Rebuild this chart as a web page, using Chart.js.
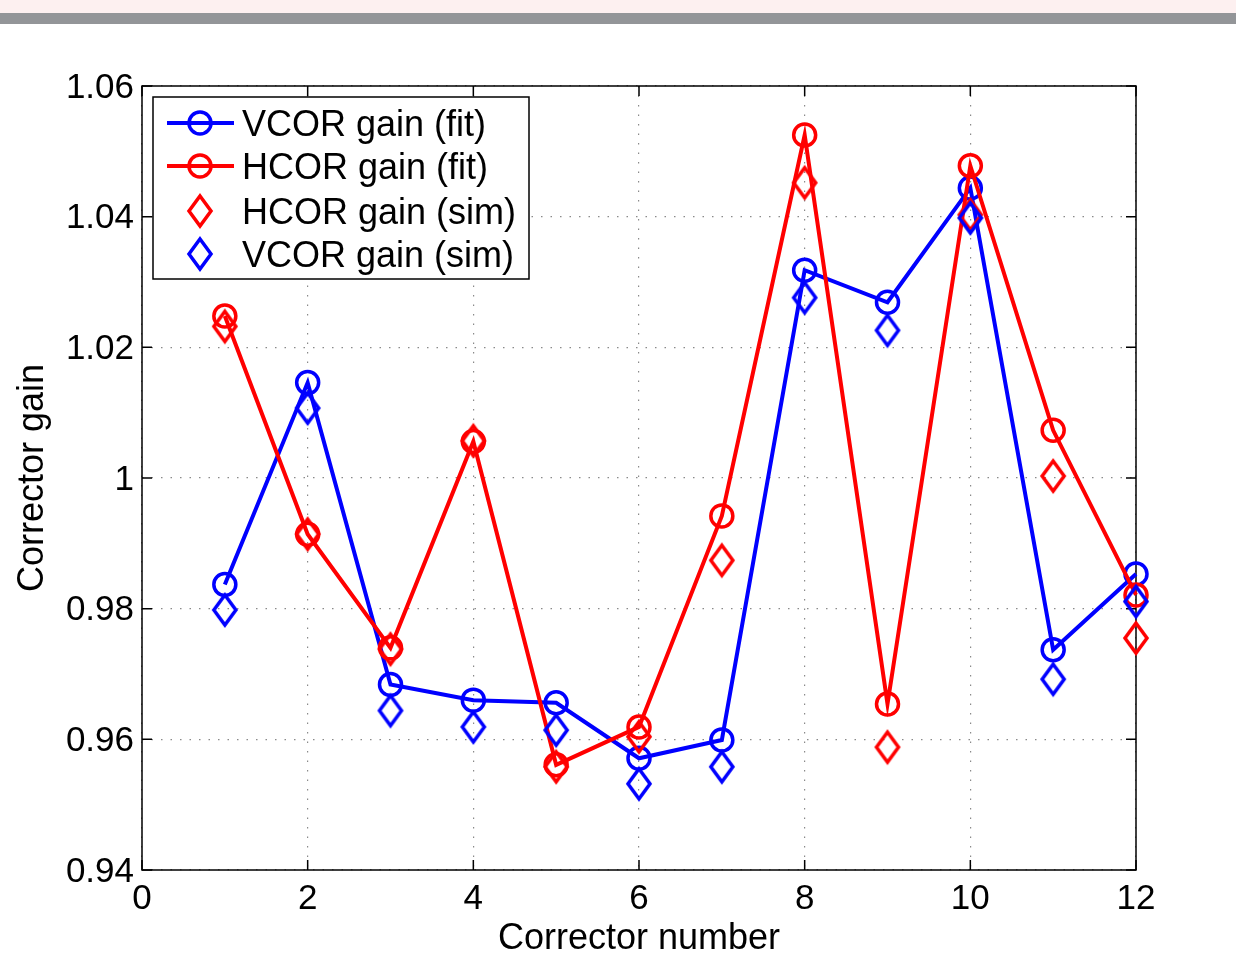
<!DOCTYPE html>
<html>
<head>
<meta charset="utf-8">
<style>
  html, body { margin: 0; padding: 0; background: #fff; }
  body { width: 1236px; height: 961px; position: relative; overflow: hidden; }
  #band-top { position: absolute; left: 0; top: 0; width: 1236px; height: 13px; background: #fdf0f0; }
  #band-bar { position: absolute; left: 0; top: 13px; width: 1236px; height: 11px; background: #939598; }
  #chart { position: absolute; left: 0; top: 0; }
</style>
<script src="https://cdn.jsdelivr.net/npm/chart.js@4/dist/chart.umd.min.js"></script>
</head>
<body>
<div id="band-top"></div>
<div id="band-bar"></div>
<canvas id="chart" width="1236" height="961"></canvas>
<script>
// Corrector gains: fitted vs simulated, per corrector
const correctors = [1, 2, 3, 4, 5, 6, 7, 8, 9, 10, 11, 12];
const vcorFit = [0.9837, 1.0146, 0.9684, 0.9660, 0.9656, 0.9571, 0.9599, 1.0318, 1.0269, 1.0444, 0.9737, 0.9853];
const hcorFit = [1.0248, 0.9914, 0.9740, 1.0056, 0.9561, 0.9619, 0.9942, 1.0525, 0.9654, 1.0478, 1.0073, 0.9821];
const hcorSim = [1.0232, 0.9914, 0.9738, 1.0057, 0.9558, 0.9604, 0.9874, 1.0452, 0.9588, 1.0403, 1.0003, 0.9755];
const vcorSim = [0.9798, 1.0107, 0.9644, 0.9619, 0.9614, 0.9532, 0.9558, 1.0276, 1.0226, 1.0398, 0.9692, 0.9811];

const xTickLabels = ['0', '2', '4', '6', '8', '10', '12'];
const yTickLabels = ['0.94', '0.96', '0.98', '1', '1.02', '1.04', '1.06'];

const BLUE = '#0000ff';
const RED = '#ff0000';
const FONT = '"Liberation Sans", Arial, Helvetica, sans-serif';

// open diamond marker, a bit taller than wide
function diamond(color) {
  const c = document.createElement('canvas');
  c.width = 30; c.height = 38;
  const g = c.getContext('2d');
  g.strokeStyle = color;
  g.lineWidth = 3.5;
  g.beginPath();
  g.moveTo(15, 4); g.lineTo(26, 19); g.lineTo(15, 34); g.lineTo(4, 19);
  g.closePath();
  g.stroke();
  return c;
}

const pts = (ys) => ys.map((y, i) => ({ x: correctors[i], y }));

const fitStyle = (color) => ({
  borderColor: color, borderWidth: 4, showLine: true, tension: 0, clip: false,
  pointStyle: 'circle', pointRadius: 11, pointBorderWidth: 3.5,
  pointBorderColor: color, pointBackgroundColor: 'rgba(0,0,0,0)',
});
const simStyle = (color) => ({
  borderColor: color, showLine: false, clip: false,
  pointStyle: diamond(color), pointRadius: 15,
});

const datasets = [
  { label: 'VCOR gain (fit)', data: pts(vcorFit), order: 4, ...fitStyle(BLUE) },
  { label: 'HCOR gain (fit)', data: pts(hcorFit), order: 3, ...fitStyle(RED) },
  { label: 'HCOR gain (sim)', data: pts(hcorSim), order: 2, ...simStyle(RED) },
  { label: 'VCOR gain (sim)', data: pts(vcorSim), order: 1, ...simStyle(BLUE) },
];

// axes box with inward ticks on all four sides, plus the boxed legend
const frame = {
  id: 'frame',
  beforeDatasetsDraw(chart) {
    const { ctx, chartArea: a, scales: { x, y } } = chart;
    ctx.save();
    ctx.strokeStyle = '#000';
    ctx.lineWidth = 1.5;
    ctx.strokeRect(a.left, a.top, a.right - a.left, a.bottom - a.top);
    const len = 10;
    ctx.beginPath();
    x.ticks.forEach((t) => {
      const px = x.getPixelForValue(t.value);
      ctx.moveTo(px, a.bottom); ctx.lineTo(px, a.bottom - len);
      ctx.moveTo(px, a.top); ctx.lineTo(px, a.top + len);
    });
    y.ticks.forEach((t) => {
      const py = y.getPixelForValue(t.value);
      ctx.moveTo(a.left, py); ctx.lineTo(a.left + len, py);
      ctx.moveTo(a.right, py); ctx.lineTo(a.right - len, py);
    });
    ctx.stroke();
    ctx.restore();
  },
  afterDraw(chart) {
    const { ctx } = chart;
    ctx.save();
    const L = 153, T = 97, W = 376, H = 182;
    ctx.fillStyle = '#fff';
    ctx.fillRect(L, T, W, H);
    ctx.strokeStyle = '#000';
    ctx.lineWidth = 1.5;
    ctx.strokeRect(L, T, W, H);
    const rows = [123, 166, 211, 254];
    ctx.font = '36px ' + FONT;
    ctx.textBaseline = 'middle';
    ctx.textAlign = 'left';
    chart.data.datasets.forEach((ds, i) => {
      const ry = rows[i];
      const mx = 200;
      if (ds.showLine) {
        ctx.strokeStyle = ds.borderColor;
        ctx.lineWidth = 4;
        ctx.beginPath(); ctx.moveTo(167, ry); ctx.lineTo(234, ry); ctx.stroke();
        ctx.lineWidth = 3.5;
        ctx.beginPath(); ctx.arc(mx, ry, 11, 0, Math.PI * 2); ctx.stroke();
      } else {
        const img = ds.pointStyle;
        ctx.drawImage(img, mx - img.width / 2, ry - img.height / 2);
      }
      ctx.fillStyle = '#000';
      ctx.fillText(ds.label, 242, ry + 3);
    });
    ctx.restore();
  },
};

new Chart(document.getElementById('chart'), {
  type: 'scatter',
  data: { datasets },
  plugins: [frame],
  options: {
    responsive: false,
    animation: false,
    devicePixelRatio: 1,
    layout: { padding: { top: 86, right: 100, left: 0, bottom: 0 } },
    plugins: { legend: { display: false }, tooltip: { enabled: false } },
    scales: {
      x: {
        type: 'linear', min: 0, max: 12,
        afterFit: (s) => { s.height = 91; },
        ticks: {
          stepSize: 2, padding: 8, color: '#000', maxRotation: 0,
          font: { family: FONT, size: 35 },
          callback: (v, i) => xTickLabels[i],
        },
        grid: { color: '#8a8a8a', lineWidth: 1.2, drawTicks: false },
        border: { display: false, dash: [1.5, 8] },
        title: {
          display: true, text: 'Corrector number', color: '#000',
          font: { family: FONT, size: 36 }, padding: { top: 6, bottom: 0 },
        },
      },
      y: {
        type: 'linear', min: 0.94, max: 1.06,
        afterFit: (s) => { s.width = 142; },
        ticks: {
          stepSize: 0.02, padding: 8, color: '#000', labelOffset: 2,
          font: { family: FONT, size: 35 },
          callback: (v, i) => yTickLabels[i],
        },
        grid: { color: '#8a8a8a', lineWidth: 1.2, drawTicks: false },
        border: { display: false, dash: [1.5, 8] },
        title: {
          display: true, text: 'Corrector gain', color: '#000',
          font: { family: FONT, size: 36 }, padding: { top: 11, bottom: 0 },
        },
      },
    },
  },
});
</script>
</body>
</html>
